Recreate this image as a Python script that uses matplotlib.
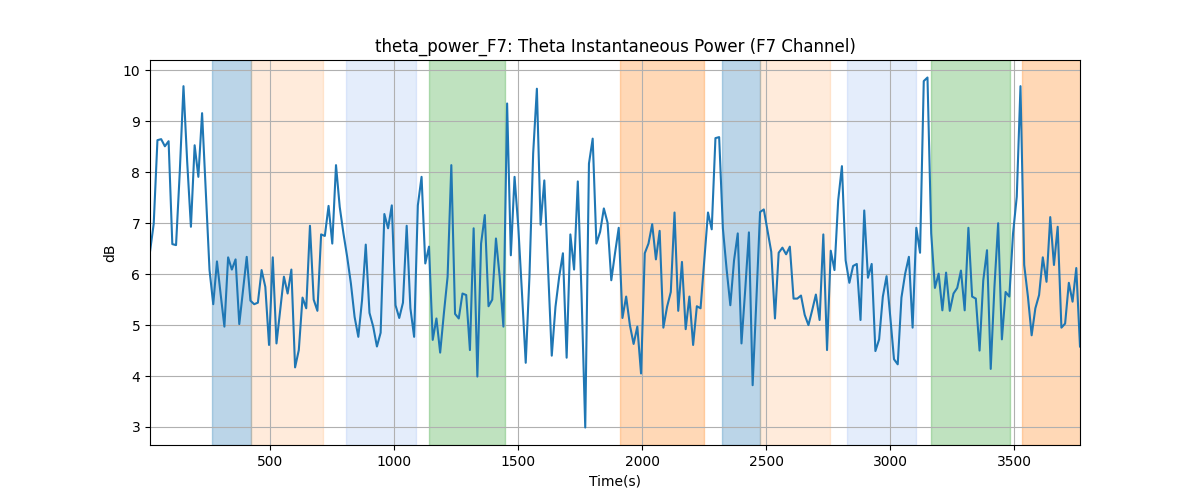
import numpy as np
import matplotlib
matplotlib.use("Agg")
import matplotlib.pyplot as plt

# theta power samples, one every 15 s
power_db = [
    6.44, 6.99, 8.63, 8.65, 8.51, 8.61, 6.59, 6.57, 8.0, 9.69,
    8.2, 6.93, 8.53, 7.91, 9.16, 7.6, 6.08, 5.41, 6.25, 5.6,
    4.97, 6.33, 6.09, 6.29, 5.02, 5.69, 6.34, 5.48, 5.41, 5.44,
    6.08, 5.75, 4.61, 6.33, 4.64, 5.3, 5.95, 5.62, 6.09, 4.17,
    4.51, 5.54, 5.33, 6.95, 5.5, 5.28, 6.78, 6.75, 7.34, 6.6,
    8.14, 7.32, 6.8, 6.34, 5.82, 5.16, 4.77, 5.49, 6.58, 5.24,
    4.97, 4.58, 4.85, 7.18, 6.9, 7.35, 5.39, 5.14, 5.44, 6.95,
    5.33, 4.77, 7.35, 7.91, 6.21, 6.54, 4.71, 5.13, 4.46, 5.23,
    5.95, 8.14, 5.22, 5.13, 5.62, 5.59, 4.51, 6.9, 3.99, 6.6,
    7.16, 5.37, 5.5, 6.7, 5.95, 4.97, 9.35, 6.37, 7.91, 6.93,
    5.62, 4.26, 5.95, 8.37, 9.64, 6.97, 7.84, 6.14, 4.4, 5.36,
    5.95, 6.41, 4.36, 6.78, 6.09, 7.82, 5.62, 2.99, 8.17, 8.66,
    6.6, 6.83, 7.29, 7.01, 5.88, 6.41, 6.91, 5.14, 5.56, 5.0,
    4.63, 4.97, 4.05, 6.41, 6.6, 6.98, 6.29, 6.85, 4.95, 5.36,
    5.65, 7.21, 5.28, 6.24, 4.92, 5.56, 4.61, 5.37, 5.33, 6.27,
    7.21, 6.88, 8.67, 8.69, 6.9, 6.1, 5.39, 6.27, 6.8, 4.64,
    5.69, 6.82, 3.82, 5.49, 7.22, 7.27, 6.86, 6.44, 5.13, 6.42,
    6.52, 6.39, 6.54, 5.52, 5.52, 5.58, 5.2, 5.0, 5.29, 5.6,
    5.1, 6.78, 4.51, 6.46, 6.08, 7.45, 8.12, 6.27, 5.83, 6.16,
    6.2, 5.1, 7.25, 5.93, 6.2, 4.49, 4.72, 5.56, 5.96, 5.16,
    4.33, 4.23, 5.54, 6.01, 6.34, 4.95, 6.91, 6.42, 9.79, 9.86,
    6.8, 5.73, 6.01, 5.29, 6.03, 5.28, 5.62, 5.73, 6.07, 5.29,
    6.91, 5.56, 5.52, 4.5, 5.88, 6.47, 4.14, 5.75, 7.0, 4.72,
    5.65, 5.56, 6.8, 7.52, 9.69, 6.18, 5.56, 4.8, 5.33, 5.59,
    6.33, 5.85, 7.12, 6.18, 6.93, 4.95, 5.03, 5.83, 5.46, 6.12,
    4.58,
]
time_s = 15 + 15 * np.arange(len(power_db))

# shaded epochs: (start, end, colour, alpha)
span_starts = [266, 422, 807, 1140, 1911, 2320, 2476, 2824, 3166, 3533]
span_ends = [422, 714, 1087, 1445, 2247, 2476, 2755, 3105, 3483, 3800]
span_colors = ["tab:blue", "tab:orange", "cornflowerblue", "tab:green", "tab:orange",
               "tab:blue", "tab:orange", "cornflowerblue", "tab:green", "tab:orange"]
span_alphas = [0.3, 0.15, 0.17, 0.3, 0.3, 0.3, 0.15, 0.17, 0.3, 0.3]

fig, ax = plt.subplots(figsize=(12, 5), dpi=100)
for s, e, c, a in zip(span_starts, span_ends, span_colors, span_alphas):
    ax.axvspan(s, e, color=c, alpha=a, lw=1)
ax.plot(time_s, power_db, color="tab:blue", lw=1.5)
ax.set_xlim(time_s[0], time_s[-1])
ax.grid(True)
ax.set_title("theta_power_F7: Theta Instantaneous Power (F7 Channel)")
ax.set_xlabel("Time(s)")
ax.set_ylabel("dB")
fig.savefig("out.png")
